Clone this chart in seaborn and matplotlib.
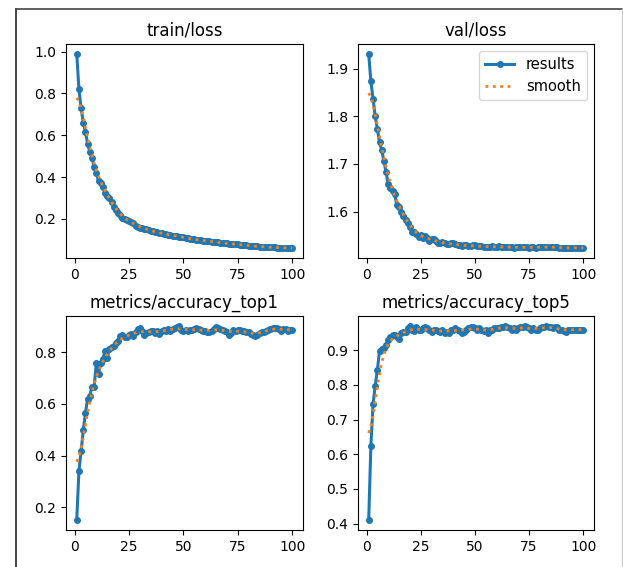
"""Training results - loss and accuracy curves"""

import numpy as np
import matplotlib
matplotlib.use('Agg')
import matplotlib.pyplot as plt
import seaborn as sns
from matplotlib.lines import Line2D

epochs = list(range(1, 101))

train_loss = [
    0.99, 0.82, 0.73, 0.66, 0.615, 0.56, 0.52, 0.49, 0.45, 0.42,
    0.38, 0.37, 0.35, 0.325, 0.31, 0.30, 0.28, 0.258, 0.24, 0.226,
    0.216, 0.206, 0.198, 0.192, 0.19, 0.186, 0.178, 0.166, 0.162, 0.158,
    0.157, 0.153, 0.149, 0.146, 0.143, 0.14, 0.137, 0.136, 0.133, 0.131,
    0.128, 0.126, 0.124, 0.122, 0.12, 0.119, 0.117, 0.115, 0.114, 0.112,
    0.11, 0.107, 0.105, 0.103, 0.101, 0.099, 0.098, 0.097, 0.096, 0.095,
    0.094, 0.093, 0.091, 0.09, 0.089, 0.087, 0.086, 0.085, 0.083, 0.082,
    0.081, 0.08, 0.079, 0.078, 0.077, 0.076, 0.075, 0.074, 0.073, 0.071,
    0.07, 0.07, 0.069, 0.068, 0.067, 0.066, 0.066, 0.065, 0.065, 0.064,
    0.063, 0.063, 0.062, 0.062, 0.061, 0.061, 0.06, 0.06, 0.06, 0.059,
]

val_loss = [
    1.931, 1.873, 1.837, 1.800, 1.773, 1.745, 1.729, 1.706, 1.683, 1.658,
    1.650, 1.643, 1.636, 1.613, 1.610, 1.599, 1.590, 1.583, 1.576, 1.568,
    1.558, 1.558, 1.552, 1.547, 1.550, 1.545, 1.548, 1.544, 1.539, 1.542,
    1.543, 1.538, 1.535, 1.534, 1.536, 1.533, 1.532, 1.531, 1.533, 1.534,
    1.531, 1.530, 1.529, 1.528, 1.529, 1.530, 1.528, 1.527, 1.529, 1.529,
    1.528, 1.527, 1.527, 1.526, 1.525, 1.526, 1.526, 1.527, 1.526, 1.526,
    1.527, 1.526, 1.526, 1.525, 1.526, 1.525, 1.525, 1.524, 1.525, 1.526,
    1.525, 1.525, 1.525, 1.525, 1.524, 1.525, 1.525, 1.524, 1.525, 1.526,
    1.526, 1.525, 1.526, 1.526, 1.526, 1.525, 1.525, 1.526, 1.524, 1.524,
    1.523, 1.524, 1.524, 1.523, 1.524, 1.524, 1.524, 1.524, 1.524, 1.524,
]

acc_top1 = [
    0.15, 0.341, 0.418, 0.498, 0.566, 0.62, 0.632, 0.667, 0.667, 0.759,
    0.716, 0.76, 0.775, 0.804, 0.778, 0.813, 0.822, 0.826, 0.836, 0.845,
    0.864, 0.867, 0.858, 0.86, 0.867, 0.871, 0.864, 0.877, 0.89, 0.896,
    0.884, 0.868, 0.875, 0.88, 0.884, 0.881, 0.873, 0.884, 0.871, 0.881,
    0.886, 0.884, 0.89, 0.884, 0.89, 0.896, 0.899, 0.903, 0.886, 0.881,
    0.886, 0.884, 0.888, 0.886, 0.89, 0.893, 0.89, 0.886, 0.884, 0.884,
    0.877, 0.877, 0.881, 0.89, 0.899, 0.894, 0.89, 0.886, 0.884, 0.877,
    0.868, 0.873, 0.886, 0.884, 0.888, 0.886, 0.881, 0.884, 0.88, 0.877,
    0.871, 0.867, 0.864, 0.868, 0.873, 0.877, 0.88, 0.884, 0.886, 0.89,
    0.896, 0.896, 0.894, 0.89, 0.884, 0.889, 0.89, 0.884, 0.888, 0.886,
]

acc_top5 = [
    0.41, 0.624, 0.744, 0.797, 0.843, 0.898, 0.902, 0.907, 0.914, 0.929,
    0.938, 0.943, 0.943, 0.938, 0.931, 0.948, 0.951, 0.953, 0.962, 0.97,
    0.959, 0.955, 0.965, 0.957, 0.957, 0.962, 0.965, 0.962, 0.957, 0.953,
    0.957, 0.959, 0.955, 0.953, 0.957, 0.95, 0.953, 0.95, 0.957, 0.959,
    0.962, 0.959, 0.955, 0.95, 0.953, 0.957, 0.962, 0.965, 0.967, 0.962,
    0.959, 0.962, 0.957, 0.955, 0.959, 0.948, 0.957, 0.959, 0.962, 0.964,
    0.962, 0.965, 0.967, 0.969, 0.967, 0.962, 0.959, 0.962, 0.957, 0.962,
    0.965, 0.967, 0.969, 0.965, 0.962, 0.959, 0.962, 0.957, 0.959, 0.962,
    0.965, 0.967, 0.969, 0.967, 0.965, 0.962, 0.967, 0.965, 0.959, 0.957,
    0.955, 0.953, 0.957, 0.959, 0.959, 0.959, 0.959, 0.959, 0.959, 0.959,
]

titles = ['train/loss', 'val/loss', 'metrics/accuracy_top1', 'metrics/accuracy_top5']
series = [train_loss, val_loss, acc_top1, acc_top5]


def gauss_smooth(y, sigma=3, truncate=4.0):
    # same as scipy gaussian_filter1d with mode='reflect'
    r = int(truncate * sigma + 0.5)
    k = np.exp(-0.5 * (np.arange(-r, r + 1) / sigma) ** 2)
    k /= k.sum()
    yp = np.pad(np.asarray(y, dtype=float), r, mode='symmetric')
    return np.convolve(yp, k, mode='valid')


def main():
    plt.rcParams['font.family'] = ['DejaVu Sans']
    fig = plt.figure(figsize=(6.23, 5.67), dpi=100)

    # axes boxes in figure fractions (left, bottom, width, height)
    boxes = [
        (0.1059, 0.5450, 0.3804, 0.3774),
        (0.5746, 0.5450, 0.3788, 0.3774),
        (0.1059, 0.0653, 0.3804, 0.3774),
        (0.5746, 0.0653, 0.3788, 0.3774),
    ]

    for i, (title, y) in enumerate(zip(titles, series)):
        ax = fig.add_axes(boxes[i])
        sns.lineplot(x=epochs, y=y, ax=ax, marker='.', markersize=8, linewidth=2.2,
                     color='#1f77b4', markeredgecolor='#1f77b4', markeredgewidth=1,
                     label='results')
        sns.lineplot(x=epochs, y=gauss_smooth(y), ax=ax, linestyle=':', linewidth=2,
                     color='#ff7f0e', label='smooth')
        ax.set_title(title, fontsize=12)
        ax.set_xticks([0, 25, 50, 75, 100])
        ax.tick_params(labelsize=10)
        if i == 1:
            ax.legend(loc='upper right', fontsize=10.5)
        else:
            ax.get_legend().remove()

    # outer frame from the screenshot
    fig.add_artist(Line2D([16 / 623, 16 / 623], [-0.1, 1 - 9 / 567], transform=fig.transFigure,
                          color='#222222', linewidth=1.2))
    fig.add_artist(Line2D([16 / 623, 621.5 / 623], [1 - 9 / 567, 1 - 9 / 567],
                          transform=fig.transFigure, color='#444444', linewidth=1.2))
    fig.add_artist(Line2D([621.5 / 623, 621.5 / 623], [-0.1, 1 - 9 / 567],
                          transform=fig.transFigure, color='#cccccc', linewidth=1))

    fig.savefig('out.png', dpi=100)


if __name__ == "__main__":
    main()
